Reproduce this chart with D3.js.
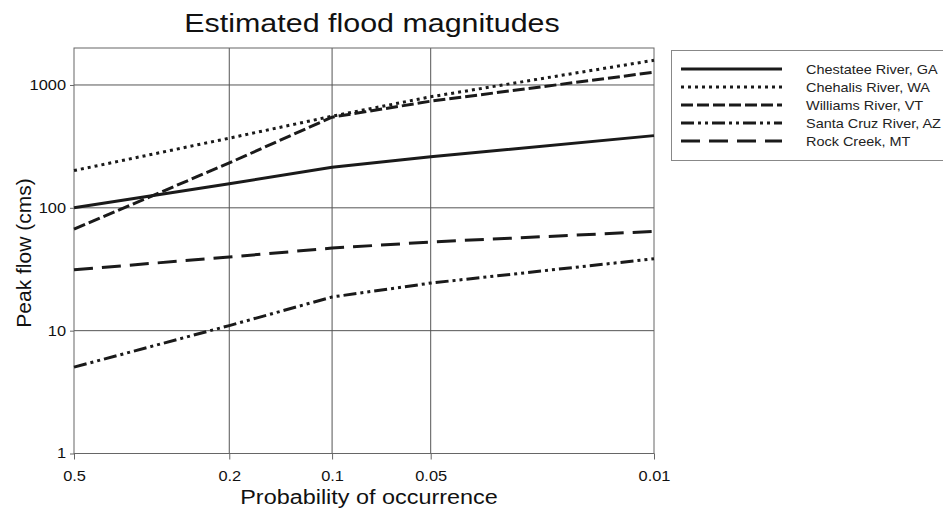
<!DOCTYPE html>
<html>
<head>
<meta charset="utf-8">
<script src="https://cdn.jsdelivr.net/npm/d3@7"></script>
<style>
  body { margin: 0; background: #fff; }
  svg { font-family: "Liberation Sans", Arial, sans-serif; }
</style>
</head>
<body>
<svg id="chart" width="943" height="516"></svg>
<script>
// probabilities on the x axis (exceedance)
const probs = [0.5, 0.2, 0.1, 0.05, 0.01];
const yTicks = [1, 10, 100, 1000];

const seriesNames = ["Chestatee River, GA", "Chehalis River, WA", "Williams River, VT", "Santa Cruz River, AZ", "Rock Creek, MT"];
const chestatee = [100, 157, 214, 260, 387];
const chehalis = [201, 369, 557, 802, 1590];
const williams = [67, 232, 547, 738, 1270];
const santaCruz = [5.05, 11, 18.8, 24.4, 38.5];
const rockCreek = [31.3, 39.8, 47, 52.7, 64.3];

const dashes = ["", "3,4", "12,4", "13,4,3,4,3,4", "19,9"];

const series = [chestatee, chehalis, williams, santaCruz, rockCreek].map((vals, i) => ({
    name: seriesNames[i],
    dash: dashes[i],
    values: vals.map((v, j) => ({ p: probs[j], q: v }))
}));

const svg = d3.select("#chart");
const mLeft = 74, mRight = 654, mTop = 48, mBottom = 453.5;

// Gumbel reduced variate, the probability paper used for the x axis
const gumbel = p => -Math.log(-Math.log(1 - p));

const xLin = d3.scaleLinear().domain([gumbel(0.5), gumbel(0.01)]).range([mLeft, mRight]);
const x = p => xLin(gumbel(p));
const y = d3.scaleLog().domain([1, 2000]).range([mBottom, mTop]);

// the original lettering is a bit wider than Liberation Sans
function widen(sel, k) {
    sel.each(function() {
        const w = this.getComputedTextLength();
        d3.select(this).attr("textLength", w * k).attr("lengthAdjust", "spacingAndGlyphs");
    });
}

// grid
const grid = svg.append("g").attr("stroke", "#555").attr("stroke-width", 1);
grid.selectAll(".gx").data(probs.slice(1, -1)).enter().append("line")
    .attr("x1", d => x(d)).attr("x2", d => x(d))
    .attr("y1", mTop).attr("y2", mBottom);
grid.selectAll(".gy").data(yTicks.slice(1)).enter().append("line")
    .attr("x1", mLeft).attr("x2", mRight)
    .attr("y1", d => y(d)).attr("y2", d => y(d));
svg.append("rect")
    .attr("x", mLeft).attr("y", mTop)
    .attr("width", mRight - mLeft).attr("height", mBottom - mTop)
    .attr("fill", "none").attr("stroke", "#666").attr("stroke-width", 1);

// axes
const xAxis = svg.append("g")
    .attr("transform", "translate(0," + mBottom + ")")
    .call(d3.axisBottom(xLin).tickValues(probs.map(gumbel)).tickSize(6).tickPadding(12)
        .tickFormat((d, i) => probs[i]));
const yAxis = svg.append("g")
    .attr("transform", "translate(" + mLeft + ",0)")
    .call(d3.axisLeft(y).tickValues(yTicks).tickSize(4).tickPadding(4).tickFormat(d3.format("d")));
[xAxis, yAxis].forEach(a => {
    a.select(".domain").remove();
    a.selectAll(".tick line").attr("stroke", "#666");
    a.selectAll(".tick text").attr("font-size", 14).attr("fill", "#111")
        .attr("font-family", "'Liberation Sans', Arial, sans-serif");
    widen(a.selectAll(".tick text"), 1.17);
});

// lines
const line = d3.line().x(d => x(d.p)).y(d => y(d.q));
svg.append("g").selectAll("path").data(series).enter().append("path")
    .attr("d", d => line(d.values))
    .attr("fill", "none")
    .attr("stroke", "#1a1a1a")
    .attr("stroke-width", 3)
    .attr("stroke-dasharray", d => d.dash || null);

// titles
const title = svg.append("text").attr("x", 372).attr("y", 32).attr("text-anchor", "middle")
    .attr("font-size", 26).attr("fill", "#111").text("Estimated flood magnitudes");
widen(title, 1.17);
const xTitle = svg.append("text").attr("x", 369).attr("y", 504).attr("text-anchor", "middle")
    .attr("font-size", 20).attr("fill", "#111").text("Probability of occurrence");
widen(xTitle, 1.17);
svg.append("text").attr("transform", "translate(31,253) rotate(-90)").attr("text-anchor", "middle")
    .attr("font-size", 21).attr("fill", "#111").text("Peak flow (cms)");

// legend
const legend = svg.append("g");
legend.append("rect").attr("x", 671.5).attr("y", 50.5).attr("width", 300).attr("height", 110)
    .attr("fill", "#fff").attr("stroke", "#888").attr("stroke-width", 1);
const items = legend.selectAll(".item").data(series).enter().append("g")
    .attr("transform", (d, i) => "translate(0," + (69 + i * 18) + ")");
items.append("line").attr("x1", 681).attr("x2", 782).attr("y1", 0).attr("y2", 0)
    .attr("stroke", "#1a1a1a").attr("stroke-width", 3)
    .attr("stroke-dasharray", d => d.dash || null);
const labels = items.append("text").attr("x", 806).attr("y", 5).attr("font-size", 13.5).attr("fill", "#222")
    .text(d => d.name);
widen(labels, 1.07);
</script>
</body>
</html>
